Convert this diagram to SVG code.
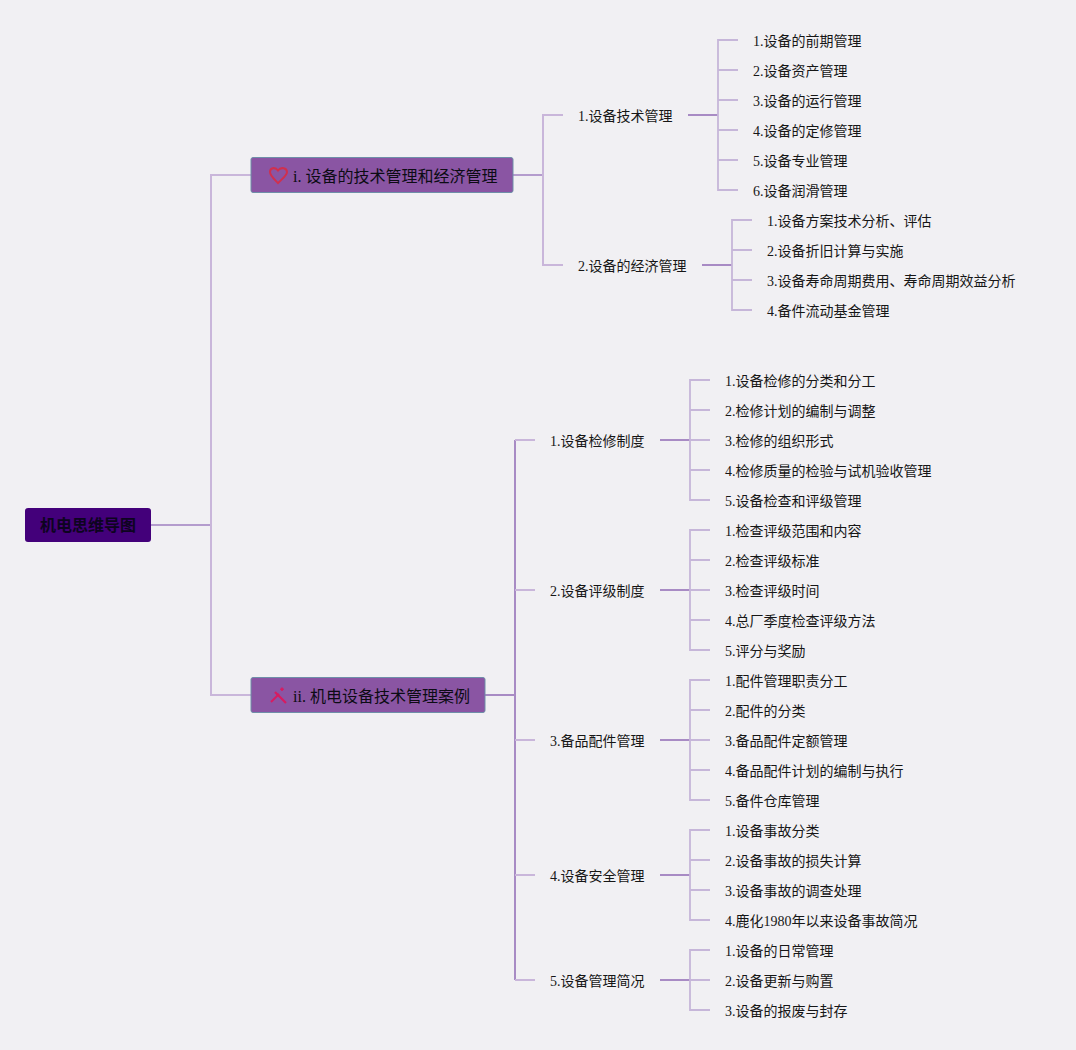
<svg xmlns="http://www.w3.org/2000/svg" width="1076" height="1050" viewBox="0 0 1076 1050">
<style>
text{font-family:"Liberation Serif","Noto Sans CJK SC",serif;fill:#161616}
.l{font-size:14px}
.b{font-size:16px;fill:#0c0c14}
.r{font-size:16px;font-family:"Liberation Sans","Noto Sans CJK SC",sans-serif;font-weight:700;fill:#0d0420}
.bx{fill:#8a55a3;stroke:#6f8fa8;stroke-width:1}
path{fill:none}
.c1{stroke:#c9b6da;stroke-width:2}
.c2{stroke:#b49ccd;stroke-width:2}
.c3{stroke:#a88bc4;stroke-width:2}
.c4{stroke:#c6b6d9;stroke-width:1.8}
</style>
<rect width="1076" height="1050" fill="#f1f0f3"/>
<g id="connectors">
<path class="c2" d="M151 525H211"/>
<path class="c1" d="M251 175H211V695H251"/>
<path class="c2" d="M513 175H543"/>
<path class="c1" d="M563 115H543V265H563"/>
<path class="c3" d="M485 695H515"/>
<path class="c3" d="M515 440V980" />
<path class="c1" d="M535 440H515M535 590H515M535 740H515M535 875H515M535 980H515"/>
<path class="c3" d="M688 115H718"/>
<path class="c4" d="M738 40H718V190H738M718 70H738M718 100H738M718 130H738M718 160H738"/>
<path class="c3" d="M702 265H732"/>
<path class="c4" d="M752 220H732V310H752M732 250H752M732 280H752"/>
<path class="c3" d="M660 440H690"/>
<path class="c4" d="M710 380H690V500H710M690 410H710M690 440H710M690 470H710"/>
<path class="c3" d="M660 590H690"/>
<path class="c4" d="M710 530H690V650H710M690 560H710M690 590H710M690 620H710"/>
<path class="c3" d="M660 740H690"/>
<path class="c4" d="M710 680H690V800H710M690 710H710M690 740H710M690 770H710"/>
<path class="c3" d="M660 875H690"/>
<path class="c4" d="M710 830H690V920H710M690 860H710M690 890H710"/>
<path class="c3" d="M660 980H690"/>
<path class="c4" d="M710 950H690V1010H710M690 980H710"/>
</g>
<g id="root"><rect x="25" y="508" width="126" height="34" rx="3" fill="#43007a"/><text class="r" x="88" y="531" text-anchor="middle">机电思维导图</text></g>
<g id="b1"><rect class="bx" x="251" y="157.500" width="262" height="35" rx="2"/>
<path d="M278 183C273 178 270 175.500 270 172C270 168 275 166.500 278 170.500C281 166.500 287 168 287 172C287 175.500 283 178 278 183Z" stroke="#d0304e" stroke-width="2"/>
<text class="b" x="293" y="182">i. 设备的技术管理和经济管理</text></g>
<g id="b2"><rect class="bx" x="251" y="677.500" width="234" height="35" rx="2"/>
<path d="M275 692L286 703" stroke="#d81b60" stroke-width="2.200"/>
<path d="M271 702L279 694" stroke="#d81b60" stroke-width="2"/>
<path d="M282 687.500L282 691M280.200 689.200H283.800" stroke="#d81b60" stroke-width="1.600"/>
<text class="b" x="293" y="702">ii. 机电设备技术管理案例</text></g>
<g id="n1"><text class="l" x="578" y="121">1.设备技术管理</text></g>
<g id="n2"><text class="l" x="578" y="271">2.设备的经济管理</text></g>
<g id="n1-1"><text class="l" x="753" y="46">1.设备的前期管理</text></g>
<g id="n1-2"><text class="l" x="753" y="76">2.设备资产管理</text></g>
<g id="n1-3"><text class="l" x="753" y="106">3.设备的运行管理</text></g>
<g id="n1-4"><text class="l" x="753" y="136">4.设备的定修管理</text></g>
<g id="n1-5"><text class="l" x="753" y="166">5.设备专业管理</text></g>
<g id="n1-6"><text class="l" x="753" y="196">6.设备润滑管理</text></g>
<g id="n2-1"><text class="l" x="767" y="226">1.设备方案技术分析、评估</text></g>
<g id="n2-2"><text class="l" x="767" y="256">2.设备折旧计算与实施</text></g>
<g id="n2-3"><text class="l" x="767" y="286">3.设备寿命周期费用、寿命周期效益分析</text></g>
<g id="n2-4"><text class="l" x="767" y="316">4.备件流动基金管理</text></g>
<g id="m1"><text class="l" x="550" y="446">1.设备检修制度</text></g>
<g id="m2"><text class="l" x="550" y="596">2.设备评级制度</text></g>
<g id="m3"><text class="l" x="550" y="746">3.备品配件管理</text></g>
<g id="m4"><text class="l" x="550" y="881">4.设备安全管理</text></g>
<g id="m5"><text class="l" x="550" y="986">5.设备管理简况</text></g>
<g id="m1-1"><text class="l" x="725" y="386">1.设备检修的分类和分工</text></g>
<g id="m1-2"><text class="l" x="725" y="416">2.检修计划的编制与调整</text></g>
<g id="m1-3"><text class="l" x="725" y="446">3.检修的组织形式</text></g>
<g id="m1-4"><text class="l" x="725" y="476">4.检修质量的检验与试机验收管理</text></g>
<g id="m1-5"><text class="l" x="725" y="506">5.设备检查和评级管理</text></g>
<g id="m2-1"><text class="l" x="725" y="536">1.检查评级范围和内容</text></g>
<g id="m2-2"><text class="l" x="725" y="566">2.检查评级标准</text></g>
<g id="m2-3"><text class="l" x="725" y="596">3.检查评级时间</text></g>
<g id="m2-4"><text class="l" x="725" y="626">4.总厂季度检查评级方法</text></g>
<g id="m2-5"><text class="l" x="725" y="656">5.评分与奖励</text></g>
<g id="m3-1"><text class="l" x="725" y="686">1.配件管理职责分工</text></g>
<g id="m3-2"><text class="l" x="725" y="716">2.配件的分类</text></g>
<g id="m3-3"><text class="l" x="725" y="746">3.备品配件定额管理</text></g>
<g id="m3-4"><text class="l" x="725" y="776">4.备品配件计划的编制与执行</text></g>
<g id="m3-5"><text class="l" x="725" y="806">5.备件仓库管理</text></g>
<g id="m4-1"><text class="l" x="725" y="836">1.设备事故分类</text></g>
<g id="m4-2"><text class="l" x="725" y="866">2.设备事故的损失计算</text></g>
<g id="m4-3"><text class="l" x="725" y="896">3.设备事故的调查处理</text></g>
<g id="m4-4"><text class="l" x="725" y="926">4.鹿化1980年以来设备事故简况</text></g>
<g id="m5-1"><text class="l" x="725" y="956">1.设备的日常管理</text></g>
<g id="m5-2"><text class="l" x="725" y="986">2.设备更新与购置</text></g>
<g id="m5-3"><text class="l" x="725" y="1016">3.设备的报废与封存</text></g>
</svg>
